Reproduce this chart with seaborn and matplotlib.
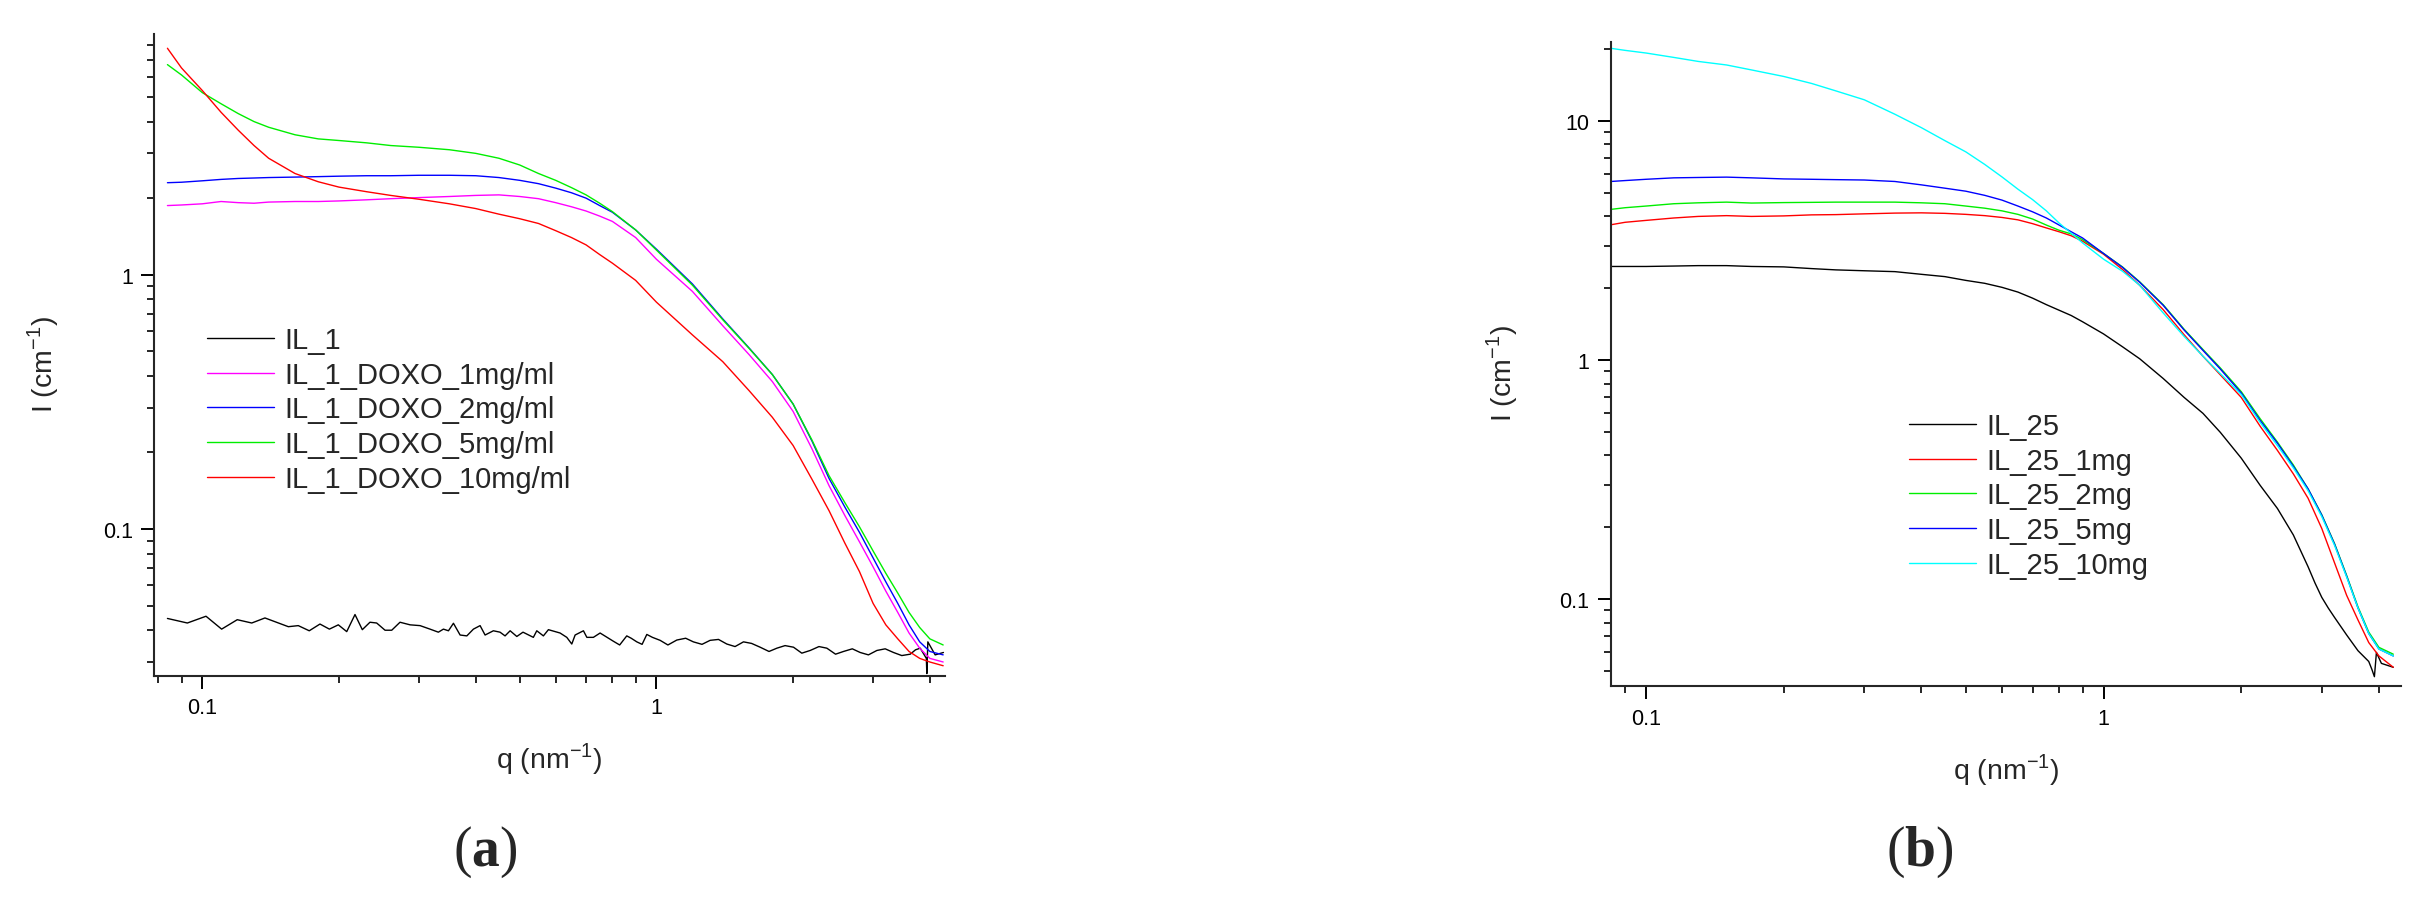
import matplotlib
matplotlib.use("Agg")
import pandas as pd
import seaborn as sns
import matplotlib.pyplot as plt
from matplotlib.ticker import FixedLocator, FixedFormatter, NullFormatter

# ---- panel (a) data : IL_1 with DOXO ----
q_a = [0.0838, 0.09, 0.1, 0.11, 0.12, 0.13, 0.14, 0.16, 0.18, 0.2, 0.23, 0.26, 0.3, 0.35,
       0.4, 0.45, 0.5, 0.55, 0.6, 0.65, 0.7, 0.75, 0.8, 0.9, 1.0, 1.2, 1.4, 1.6, 1.8, 2.0,
       2.2, 2.4, 2.6, 2.8, 3.0, 3.2, 3.4, 3.6, 3.8, 4.0, 4.28]
I_a_1mg = [1.87, 1.88, 1.90, 1.94, 1.92, 1.91, 1.93, 1.94, 1.94, 1.95, 1.97, 1.99, 2.01, 2.03,
           2.05, 2.06, 2.03, 1.99, 1.92, 1.85, 1.78, 1.70, 1.62, 1.40, 1.15, 0.86, 0.63, 0.485,
           0.38, 0.29, 0.207, 0.148, 0.113, 0.089, 0.071, 0.057, 0.047, 0.039, 0.034, 0.031, 0.030]
I_a_2mg = [2.30, 2.31, 2.34, 2.37, 2.39, 2.40, 2.41, 2.42, 2.43, 2.44, 2.45, 2.45, 2.46, 2.46,
           2.45, 2.41, 2.35, 2.28, 2.19, 2.10, 2.00, 1.87, 1.76, 1.50, 1.26, 0.92, 0.67, 0.515,
           0.405, 0.31, 0.222, 0.158, 0.122, 0.097, 0.077, 0.062, 0.051, 0.042, 0.036, 0.033, 0.032]
I_a_5mg = [6.7, 6.1, 5.2, 4.7, 4.3, 4.0, 3.8, 3.55, 3.42, 3.37, 3.30, 3.22, 3.17, 3.10,
           3.0, 2.87, 2.70, 2.50, 2.35, 2.2, 2.06, 1.91, 1.77, 1.5, 1.25, 0.91, 0.665, 0.513,
           0.405, 0.31, 0.224, 0.162, 0.127, 0.102, 0.082, 0.067, 0.056, 0.047, 0.041, 0.037, 0.035]
I_a_10mg = [7.77, 6.5, 5.3, 4.35, 3.7, 3.22, 2.87, 2.5, 2.32, 2.21, 2.12, 2.05, 1.98, 1.90,
            1.82, 1.73, 1.66, 1.59, 1.49, 1.40, 1.31, 1.2, 1.11, 0.95, 0.78, 0.58, 0.455, 0.35,
            0.275, 0.213, 0.157, 0.118, 0.088, 0.068, 0.051, 0.042, 0.037, 0.033, 0.031, 0.030, 0.029]

q_a_blank = [0.0838, 0.0927, 0.1019, 0.1103, 0.1194, 0.1285, 0.1374, 0.1547, 0.1627, 0.172,
             0.1816, 0.1905, 0.1993, 0.208, 0.2169, 0.2251, 0.234, 0.2421, 0.2526, 0.2613,
             0.2725, 0.2868, 0.3017, 0.3173, 0.331, 0.3396, 0.3484, 0.3573, 0.3696, 0.3824,
             0.3954, 0.409, 0.4195, 0.4375, 0.4525, 0.4642, 0.4763, 0.4927, 0.5084, 0.5358,
             0.5452, 0.5638, 0.5783, 0.6136, 0.6348, 0.6511, 0.6622, 0.6907, 0.7028, 0.7264,
             0.7516, 0.804, 0.83, 0.8604, 0.88, 0.9054, 0.93, 0.9525, 0.98, 1.019, 1.06, 1.109,
             1.16, 1.206, 1.26, 1.313, 1.37, 1.429, 1.49, 1.555, 1.62, 1.692, 1.77, 1.842, 1.92,
             2.004, 2.09, 2.181, 2.28, 2.373, 2.48, 2.582, 2.7, 2.81, 2.93, 3.058, 3.19, 3.327,
             3.47, 3.622, 3.72, 3.81, 3.93, 3.94, 3.96, 4.11, 4.286]
I_a_blank = [0.0445, 0.0427, 0.0454, 0.0404, 0.0440, 0.0427, 0.0447, 0.0413, 0.0417, 0.0398,
             0.0423, 0.0404, 0.0420, 0.0395, 0.0461, 0.0402, 0.0430, 0.0427, 0.0400, 0.0400,
             0.0430, 0.0420, 0.0417, 0.0404, 0.0393, 0.0404, 0.0398, 0.0426, 0.0383, 0.0380,
             0.0404, 0.0417, 0.0383, 0.0398, 0.0393, 0.0380, 0.0398, 0.0378, 0.0393, 0.0375,
             0.0398, 0.0380, 0.0402, 0.0390, 0.0375, 0.0353, 0.0383, 0.0398, 0.0375, 0.0375,
             0.0390, 0.0362, 0.0350, 0.0380, 0.0372, 0.0360, 0.0352, 0.0385, 0.0375, 0.0365,
             0.0350, 0.0366, 0.0372, 0.0360, 0.0352, 0.0365, 0.0368, 0.0353, 0.0345, 0.0360,
             0.0355, 0.0343, 0.0330, 0.0340, 0.0348, 0.0343, 0.0325, 0.0333, 0.0345, 0.0340,
             0.0322, 0.0330, 0.0338, 0.0327, 0.0320, 0.0333, 0.0338, 0.0327, 0.0318, 0.0322,
             0.0335, 0.0340, 0.0310, 0.0270, 0.0360, 0.0320, 0.0327]

labels_a = ["IL_1", "IL_1_DOXO_1mg/ml", "IL_1_DOXO_2mg/ml", "IL_1_DOXO_5mg/ml", "IL_1_DOXO_10mg/ml"]
colors_a = ["#000000", "#ff00ff", "#0000ff", "#00ee00", "#ff0000"]

# ---- panel (b) data : IL_25 ----
q_b = [0.0837, 0.09, 0.1, 0.115, 0.13, 0.15, 0.17, 0.2, 0.23, 0.26, 0.3, 0.35, 0.4, 0.45,
       0.5, 0.55, 0.6, 0.65, 0.7, 0.75, 0.8, 0.85, 0.9, 1.0, 1.1, 1.2, 1.35, 1.5, 1.65, 1.8,
       2.0, 2.2, 2.4, 2.6, 2.8, 3.0, 3.2, 3.4, 3.6, 3.8, 4.0, 4.3]
I_b_1mg = [3.69, 3.78, 3.85, 3.94, 4.0, 4.03, 4.0, 4.02, 4.06, 4.07, 4.1, 4.13, 4.14, 4.12,
           4.08, 4.03, 3.96, 3.87, 3.73, 3.58, 3.45, 3.32, 3.15, 2.78, 2.40, 2.06, 1.63, 1.28,
           1.04, 0.87, 0.70, 0.53, 0.42, 0.335, 0.265, 0.198, 0.142, 0.104, 0.082, 0.066, 0.058, 0.052]
I_b_2mg = [4.28, 4.35, 4.42, 4.52, 4.56, 4.59, 4.55, 4.57, 4.58, 4.59, 4.59, 4.59, 4.56, 4.52,
           4.42, 4.33, 4.22, 4.08, 3.90, 3.68, 3.5, 3.38, 3.2, 2.8, 2.46, 2.13, 1.71, 1.35,
           1.11, 0.93, 0.74, 0.57, 0.455, 0.365, 0.29, 0.226, 0.171, 0.126, 0.093, 0.073, 0.063, 0.059]
I_b_5mg = [5.6, 5.65, 5.72, 5.8, 5.82, 5.84, 5.8, 5.74, 5.72, 5.7, 5.68, 5.6, 5.42, 5.25,
           5.1, 4.9, 4.68, 4.42, 4.18, 3.94, 3.68, 3.45, 3.25, 2.8, 2.45, 2.12, 1.70, 1.34,
           1.1, 0.92, 0.73, 0.56, 0.45, 0.36, 0.29, 0.225, 0.17, 0.125, 0.092, 0.072, 0.062, 0.058]
I_b_10mg = [20.2, 19.8, 19.3, 18.5, 17.8, 17.2, 16.4, 15.4, 14.4, 13.4, 12.3, 10.7, 9.4, 8.3,
            7.45, 6.6, 5.85, 5.2, 4.7, 4.22, 3.75, 3.40, 3.1, 2.65, 2.36, 2.06, 1.58, 1.26,
            1.04, 0.88, 0.72, 0.55, 0.44, 0.355, 0.285, 0.222, 0.168, 0.124, 0.092, 0.072, 0.062, 0.058]

q_b_blank = [0.0837, 0.1, 0.115, 0.13, 0.15, 0.17, 0.2, 0.23, 0.26, 0.3, 0.35, 0.4, 0.45,
             0.5, 0.55, 0.6, 0.65, 0.7, 0.75, 0.8, 0.85, 0.9, 1.0, 1.1, 1.2, 1.35, 1.5, 1.65,
             1.8, 2.0, 2.2, 2.4, 2.6, 2.8, 2.9, 3.0, 3.1, 3.2, 3.4, 3.6, 3.8, 3.86, 3.91, 3.95,
             4.05, 4.3]
I_b_blank = [2.47, 2.47, 2.48, 2.49, 2.49, 2.47, 2.46, 2.42, 2.39, 2.37, 2.35, 2.29, 2.24,
             2.16, 2.1, 2.02, 1.93, 1.82, 1.71, 1.62, 1.54, 1.45, 1.29, 1.14, 1.015, 0.84, 0.70,
             0.6, 0.5, 0.39, 0.30, 0.24, 0.186, 0.137, 0.117, 0.102, 0.092, 0.084, 0.071, 0.061,
             0.055, 0.051, 0.0475, 0.060, 0.054, 0.052]

labels_b = ["IL_25", "IL_25_1mg", "IL_25_2mg", "IL_25_5mg", "IL_25_10mg"]
colors_b = ["#000000", "#ff0000", "#00ee00", "#0000ff", "#00ffff"]


def long_df(series):
    frames = []
    for name, q, inten in series:
        frames.append(pd.DataFrame({"q": q, "I": inten, "sample": name}))
    return pd.concat(frames, ignore_index=True)


df_a = long_df([(labels_a[0], q_a_blank, I_a_blank), (labels_a[1], q_a, I_a_1mg),
                (labels_a[2], q_a, I_a_2mg), (labels_a[3], q_a, I_a_5mg),
                (labels_a[4], q_a, I_a_10mg)])
df_b = long_df([(labels_b[0], q_b_blank, I_b_blank), (labels_b[1], q_b, I_b_1mg),
                (labels_b[2], q_b, I_b_2mg), (labels_b[3], q_b, I_b_5mg),
                (labels_b[4], q_b, I_b_10mg)])

sns.set_style("ticks")
plt.rcParams["font.family"] = ["Liberation Sans", "DejaVu Sans"]
plt.rcParams["mathtext.fontset"] = "custom"
plt.rcParams["mathtext.rm"] = "Liberation Sans"
plt.rcParams["mathtext.bf"] = "Liberation Serif:bold"

W, H = 2430, 904
fig = plt.figure(figsize=(W / 100, H / 100), dpi=100)


def px_axes(left, top, right, bottom):
    return fig.add_axes([left / W, 1 - bottom / H, (right - left) / W, (bottom - top) / H])


def setup(ax, df, labels, colors, xlim, ylim, yticks, ylab_x, leg_xy):
    for name, col in zip(labels, colors):
        sns.lineplot(data=df[df["sample"] == name], x="q", y="I", color=col, lw=1.0,
                     sort=False, estimator=None, label=name, ax=ax)
    ax.set_xscale("log")
    ax.set_yscale("log")
    ax.set_xlim(*xlim)
    ax.set_ylim(*ylim)
    sns.despine(ax=ax)
    for s in ("left", "bottom"):
        ax.spines[s].set_linewidth(1.5)
    ax.xaxis.set_major_locator(FixedLocator([0.1, 1]))
    ax.xaxis.set_major_formatter(FixedFormatter(["0.1", "1"]))
    ax.xaxis.set_minor_locator(FixedLocator([0.08, 0.09, 0.2, 0.3, 0.4, 0.5, 0.6, 0.7, 0.8,
                                             0.9, 2, 3, 4]))
    ax.xaxis.set_minor_formatter(NullFormatter())
    ax.yaxis.set_major_locator(FixedLocator(yticks))
    ax.yaxis.set_major_formatter(FixedFormatter([f"{t:g}" for t in yticks]))
    minors = [m * d for d in (0.01, 0.1, 1, 10) for m in range(2, 10)]
    ax.yaxis.set_minor_locator(FixedLocator(minors))
    ax.yaxis.set_minor_formatter(NullFormatter())
    ax.tick_params(which="major", direction="out", length=9.5, width=1.4, labelsize=15.5,
                   pad=6, colors="black")
    ax.tick_params(which="minor", direction="out", length=4.8, width=1.4)
    ax.set_xlabel(r"q (nm$^{\mathregular{-1}}$)", fontsize=20.5)
    ax.set_ylabel(r"I (cm$^{\mathregular{-1}}$)", fontsize=20.5)
    ax.xaxis.set_label_coords(0.5, -0.10)
    ax.yaxis.set_label_coords(ylab_x, 0.487)
    ax.legend(loc="upper left", bbox_to_anchor=(leg_xy[0] / W, 1 - leg_xy[1] / H),
              bbox_transform=fig.transFigure, frameon=False, fontsize=21, borderpad=0,
              borderaxespad=0, handlelength=2.3, handletextpad=0.35, labelspacing=0.23)
    ax.set_facecolor("white")


ax_a = px_axes(154.3, 35, 945, 676.7)
setup(ax_a, df_a, labels_a, colors_a, (0.0784, 4.32), (0.0265, 8.84), [0.1, 1],
      -0.118, (207, 327))

ax_b = px_axes(1610.7, 43.3, 2401, 687.3)
setup(ax_b, df_b, labels_b, colors_b, (0.0837, 4.47), (0.0433, 21.4), [0.1, 1, 10],
      -0.115, (1909, 413))

fig.text(485 / W, 1 - 852 / H, r"($\mathbf{a}$)", ha="center", va="center",
         family="Liberation Serif", fontsize=40)
fig.text(1919.5 / W, 1 - 852 / H, r"($\mathbf{b}$)", ha="center", va="center",
         family="Liberation Serif", fontsize=40)

fig.savefig("out.png", dpi=100, facecolor="white")
